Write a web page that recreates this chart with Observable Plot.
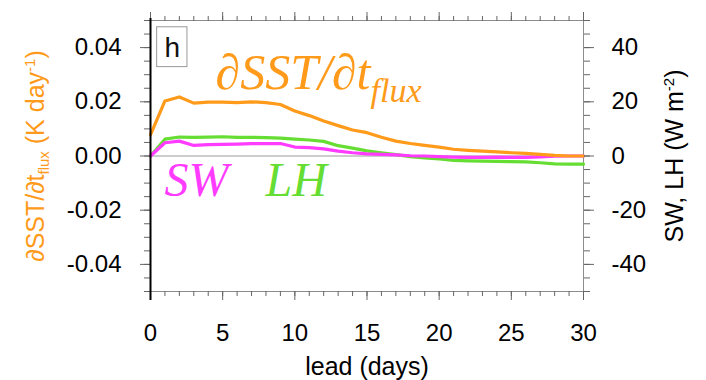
<!DOCTYPE html>
<html><head><meta charset="utf-8">
<script src="https://cdn.jsdelivr.net/npm/d3@7"></script>
<script src="https://cdn.jsdelivr.net/npm/@observablehq/plot@0.6"></script>
<style>body{margin:0;background:#fff;} svg{display:block;}</style>
</head><body><div id="chart"></div>
<script>
// ---- data ----
const lead = [0,1,2,3,4,5,6,7,8,9,10,11,12,13,14,15,16,17,18,19,20,21,22,23,24,25,26,27,28,29,30];
// dSST/dt_flux (K day^-1), left axis
const dsstFlux = [0.0078,0.0203,0.0218,0.0195,0.0199,0.0199,0.0197,0.0200,0.0197,0.0190,0.0166,0.0149,0.0129,0.0112,0.0096,0.0086,0.0069,0.0055,0.0046,0.0039,0.0033,0.0025,0.0021,0.0018,0.0015,0.0012,0.0010,0.0006,0.0002,0.0000,0.0000];
// SW (W m^-2), right axis
const swFlux = [0,4.9,5.5,3.9,4.2,4.3,4.4,4.6,4.6,4.6,3.3,3.1,2.6,1.8,1.2,0.8,0.6,0.4,0.1,0,-0.2,-0.4,-0.5,-0.5,-0.4,-0.5,-0.5,-0.3,-0.1,0,0];
// LH (W m^-2), right axis
const lhFlux = [0,6.2,7.0,6.9,7.0,7.1,6.9,6.9,6.8,6.6,6.2,5.9,5.4,3.8,2.9,1.9,1.2,0.5,-0.2,-0.7,-1.1,-1.6,-1.8,-1.9,-2.0,-2.1,-2.2,-2.5,-2.9,-3.0,-3.0];

const xTicks = [0,5,10,15,20,25,30];
const xTickLabels = ["0","5","10","15","20","25","30"];
const leftTicks = [-0.04,-0.02,0,0.02,0.04];
const leftTickLabels = ["-0.04","-0.02","0.00","0.02","0.04"];
const rightTickLabels = [-40,-20,0,20,40];
const wm2PerKday = 1000; // right axis value = left axis value * 1000

// ---- build ----
const rows = lead.map((d, i) => ({lead: d, dsst: dsstFlux[i], sw: swFlux[i], lh: lhFlux[i]}));
const rightTicks = rightTickLabels.map(v => v / wm2PerKday);
const xMinor = d3.range(0, 31, 1);
const yMinor = d3.range(-10, 11).map(i => i * 0.005);

const ORANGE = "#FF9A1A", MAGENTA = "#FF3BFF", GREEN = "#66DD33";
const TICK = "#666", FRAME = "#8c8c8c";
const SANS = "'Liberation Sans', Arial, Helvetica, sans-serif";
const SERIF = "'Liberation Serif', 'Times New Roman', serif";

const BIG = "∂SST/∂t flux";
const YL = "∂SST/∂t flux (K day-1)";
const YR = "SW, LH (W m-2)";

const svg = Plot.plot({
  width: 706, height: 380,
  marginLeft: 150, marginRight: 123, marginTop: 20, marginBottom: 89,
  style: {fontFamily: SANS, fontSize: "24px", background: "#fff", overflow: "visible", color: "#000"},
  x: {domain: [0, 30], label: null},
  y: {domain: [-0.05, 0.05], label: null},
  marks: [
    // panel-label box
    Plot.rect([0], {x1: 0.46, x2: 2.56, y1: 0.0328, y2: 0.0475, fill: "#fff", stroke: "#999", strokeWidth: 1}),
    Plot.text(["h"], {text: d => d, frameAnchor: "top-left", dx: 21.8, dy: 28, lineAnchor: "middle", textAnchor: "middle", fontSize: 28, fill: "#111", fontFamily: SANS}),
    // zero line
    Plot.ruleY([0], {stroke: "#999", strokeWidth: 1}),
    // frame
    Plot.ruleY([-0.05, 0.05], {stroke: FRAME, strokeWidth: 1}),
    Plot.ruleX([30], {stroke: FRAME, strokeWidth: 1}),
    // series
    Plot.line(rows, {x: "lead", y: d => d.lh / wm2PerKday, stroke: GREEN, strokeWidth: 3.2}),
    Plot.line(rows, {x: "lead", y: d => d.sw / wm2PerKday, stroke: MAGENTA, strokeWidth: 3.2}),
    Plot.line(rows, {x: "lead", y: "dsst", stroke: ORANGE, strokeWidth: 3.2}),
    // axes: left
    Plot.axisY({anchor: "left", ticks: yMinor, tickSize: 6, tickFormat: () => "", stroke: TICK, label: null}),
    Plot.axisY({anchor: "left", ticks: leftTicks, tickSize: 10, tickPadding: 19,
      tickFormat: d => leftTickLabels[leftTicks.indexOf(d)], stroke: TICK, fill: "#000", fontSize: 24, label: null}),
    // right
    Plot.axisY({anchor: "right", ticks: yMinor, tickSize: 6, tickFormat: () => "", stroke: TICK, label: null}),
    Plot.axisY({anchor: "right", ticks: rightTicks, tickSize: 10, tickPadding: 18,
      tickFormat: d => String(rightTickLabels[rightTicks.indexOf(d)]), stroke: TICK, fill: "#000", fontSize: 24, label: null}),
    // bottom
    Plot.axisX({anchor: "bottom", ticks: xMinor, tickSize: 5, tickFormat: () => "", stroke: TICK, label: null}),
    Plot.axisX({anchor: "bottom", ticks: xTicks, tickSize: 9, tickPadding: 23,
      tickFormat: d => xTickLabels[xTicks.indexOf(d)], stroke: TICK, fill: "#000", fontSize: 24, label: null}),
    // top
    Plot.axisX({anchor: "top", ticks: xMinor, tickSize: 5, tickFormat: () => "", stroke: TICK, label: null}),
    Plot.axisX({anchor: "top", ticks: xTicks, tickSize: 9, tickFormat: () => "", stroke: TICK, label: null}),
    // left frame line (black)
    Plot.ruleX([0], {stroke: "#000", strokeWidth: 2, insetTop: -2, insetBottom: -9}),
    // axis titles
    Plot.text(["lead (days)"], {text: d => d, frameAnchor: "bottom", dy: 75, lineAnchor: "middle", textAnchor: "middle", fontSize: 25, fill: "#000"}),
    Plot.text([YL], {text: d => d, frameAnchor: "left", dx: -115, rotate: -90, lineAnchor: "middle", textAnchor: "middle", fontSize: 25, fill: ORANGE}),
    Plot.text([YR], {text: d => d, frameAnchor: "right", dx: 91, rotate: -90, lineAnchor: "middle", textAnchor: "middle", fontSize: 25, fill: "#000"}),
    // in-panel labels
    Plot.text([BIG], {text: d => d, frameAnchor: "top-left", dx: 65, dy: 52, textAnchor: "start", lineAnchor: "middle",
      fontSize: 50, fontFamily: SERIF, fontStyle: "italic", fill: ORANGE}),
    Plot.text(["SW"], {text: d => d, frameAnchor: "top-left", dx: 14, dy: 160, textAnchor: "start", lineAnchor: "middle",
      fontSize: 48, fontFamily: SERIF, fontStyle: "italic", fill: MAGENTA}),
    Plot.text(["LH"], {text: d => d, frameAnchor: "top-left", dx: 115, dy: 160, textAnchor: "start", lineAnchor: "middle",
      fontSize: 48, fontFamily: SERIF, fontStyle: "italic", fill: GREEN})
  ]
});

// rich text (sub/superscripts) inside Plot's own text elements
function rich(content, parts) {
  d3.select(svg).selectAll("text").filter(function () { return this.textContent === content; }).each(function () {
    const t = d3.select(this);
    t.text(null);
    let shift = 0;
    for (const p of parts) {
      const ts = t.append("tspan").text(p.t);
      const target = p.shift || 0;
      if (target !== shift) { ts.attr("dy", target - shift); shift = target; }
      if (p.size) ts.attr("font-size", p.size);
    }
  });
}
rich(BIG, [{t: "∂SST/∂t"}, {t: "flux", shift: 13, size: 34}]);
rich(YL, [{t: "∂SST/∂t"}, {t: "flux", shift: 5, size: 15}, {t: " (K day", shift: 0}, {t: "-1", shift: -9, size: 15}, {t: ")", shift: 0}]);
rich(YR, [{t: "SW, LH (W m"}, {t: "-2", shift: -9, size: 15}, {t: ")", shift: 0}]);

document.getElementById("chart").appendChild(svg);
</script>
</body></html>
